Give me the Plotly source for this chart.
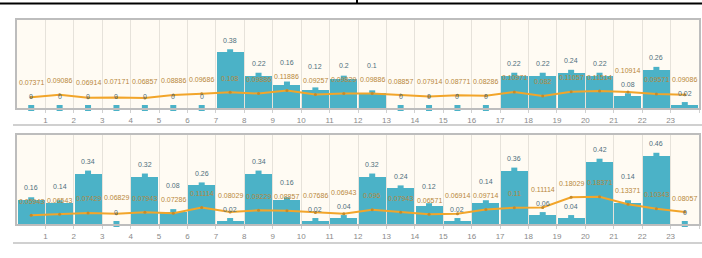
import plotly.graph_objects as go
from plotly.subplots import make_subplots

categories = list(range(1, 25))
tick_labels = [str(i) for i in range(1, 25)]

top_bars = [0, 0, 0, 0, 0, 0, 0, 0.38, 0.22, 0.16, 0.12, 0.2, 0.1, 0, 0, 0, 0,
            0.22, 0.22, 0.24, 0.22, 0.08, 0.26, 0.02]
top_line = [0.07371, 0.09086, 0.06914, 0.07171, 0.06857, 0.08886, 0.09686, 0.108,
            0.09886, 0.11886, 0.09257, 0.09829, 0.09886, 0.08857, 0.07914, 0.08771,
            0.08286, 0.10971, 0.082, 0.11057, 0.11514, 0.10914, 0.09571, 0.09086]

bottom_bars = [0.16, 0.14, 0.34, 0, 0.32, 0.08, 0.26, 0.02, 0.34, 0.16, 0.02, 0.04,
               0.32, 0.24, 0.12, 0.02, 0.14, 0.36, 0.06, 0.04, 0.42, 0.14, 0.46, 0]
bottom_line = [0.05943, 0.06543, 0.07429, 0.06829, 0.07943, 0.07286, 0.11114, 0.08029,
               0.09229, 0.08857, 0.07686, 0.06943, 0.096, 0.07943, 0.06571, 0.06914,
               0.09714, 0.11, 0.11114, 0.18029, 0.18371, 0.13371, 0.10343, 0.08057]

BAR_C = "#4bb2c7"
LINE_C = "#f2a52a"
BAR_LBL = "#4f6f7d"
LINE_LBL = "#b8873a"
FONT = "Liberation Sans, Arial"

W, H = 702, 258
Y_MAX = 0.6
TOP_DOM = (20, 108)
BOT_DOM = (135, 224)

fig = make_subplots(rows=2, cols=1)

xc = [c - 0.5 for c in categories]

def fmt(v):
    return ("%g" % v)

for row, bars, line, dom in [(1, top_bars, top_line, TOP_DOM), (2, bottom_bars, bottom_line, BOT_DOM)]:
    ppu = (dom[1] - dom[0]) / Y_MAX
    fig.add_trace(go.Bar(x=xc, y=bars, width=0.95, marker=dict(color=BAR_C, line=dict(width=0)),
                         showlegend=False, hoverinfo="skip"), row=row, col=1)
    fig.add_trace(go.Scatter(x=xc, y=bars, mode="markers",
                             marker=dict(symbol="square", size=6, color=BAR_C),
                             cliponaxis=False, showlegend=False, hoverinfo="skip"), row=row, col=1)
    fig.add_trace(go.Scatter(x=xc, y=line, mode="lines+markers",
                             line=dict(color=LINE_C, width=2),
                             marker=dict(size=3, color="#c58a2a"),
                             showlegend=False, hoverinfo="skip"), row=row, col=1)
    xref = "x" if row == 1 else "x2"
    yref = "y" if row == 1 else "y2"
    for x, b, l in zip(xc, bars, line):
        bp, lp = b * ppu, l * ppu
        bl, ll = bp + 12, lp + 14
        if abs(bl - ll) < 14:
            if b >= l:
                bl = max(bl, ll + 14)
            else:
                ll = max(ll, bl + 14)
        fig.add_annotation(x=x, y=b, xref=xref, yref=yref, text=fmt(b), showarrow=False,
                           yshift=bl - bp, font=dict(family=FONT, size=7, color=BAR_LBL))
        fig.add_annotation(x=x, y=l, xref=xref, yref=yref, text=fmt(l), showarrow=False,
                           yshift=ll - lp, font=dict(family=FONT, size=7, color=LINE_LBL))

axis_x = dict(range=[0, 24], tickmode="array", tickvals=categories, ticktext=tick_labels,
              showgrid=True, gridcolor="#e6e2da", gridwidth=1, zeroline=False,
              showline=True, mirror=True, linecolor="#bdbdbd", linewidth=2,
              ticks="outside", ticklen=3, tickcolor="#d0d0d0",
              tickfont=dict(family=FONT, size=8, color="#8a8a8a"))
axis_y = dict(range=[0, Y_MAX], showgrid=False, zeroline=False, showticklabels=False,
              showline=True, mirror=True, linecolor="#bdbdbd", linewidth=2, ticks="")

x0, x1 = 17 / W, 699 / W
fig.update_layout(
    width=W, height=H, margin=dict(l=0, r=0, t=0, b=0),
    paper_bgcolor="white", plot_bgcolor="#fffbf3", bargap=0,
    xaxis=dict(axis_x, domain=[x0, x1], anchor="y"),
    yaxis=dict(axis_y, domain=[1 - TOP_DOM[1] / H, 1 - TOP_DOM[0] / H], anchor="x"),
    xaxis2=dict(axis_x, domain=[x0, x1], anchor="y2"),
    yaxis2=dict(axis_y, domain=[1 - BOT_DOM[1] / H, 1 - BOT_DOM[0] / H], anchor="x2"),
    shapes=[
        dict(type="line", xref="paper", yref="paper", x0=0, x1=1, y0=1 - 3.5 / H, y1=1 - 3.5 / H,
             line=dict(color="black", width=2)),
        dict(type="line", xref="paper", yref="paper", x0=357 / W, x1=357 / W, y0=1, y1=1 - 3.5 / H,
             line=dict(color="black", width=2)),
        dict(type="line", xref="paper", yref="paper", x0=13 / W, x1=1, y0=1 - 125 / H, y1=1 - 125 / H,
             line=dict(color="#d0d0d0", width=2)),
        dict(type="line", xref="paper", yref="paper", x0=13 / W, x1=1, y0=1 - 243 / H, y1=1 - 243 / H,
             line=dict(color="#d0d0d0", width=2)),
    ],
)

fig.write_html("out.html", config={"displayModeBar": False},
               post_script="document.body.style.margin='0px';document.body.style.overflow='hidden';")
